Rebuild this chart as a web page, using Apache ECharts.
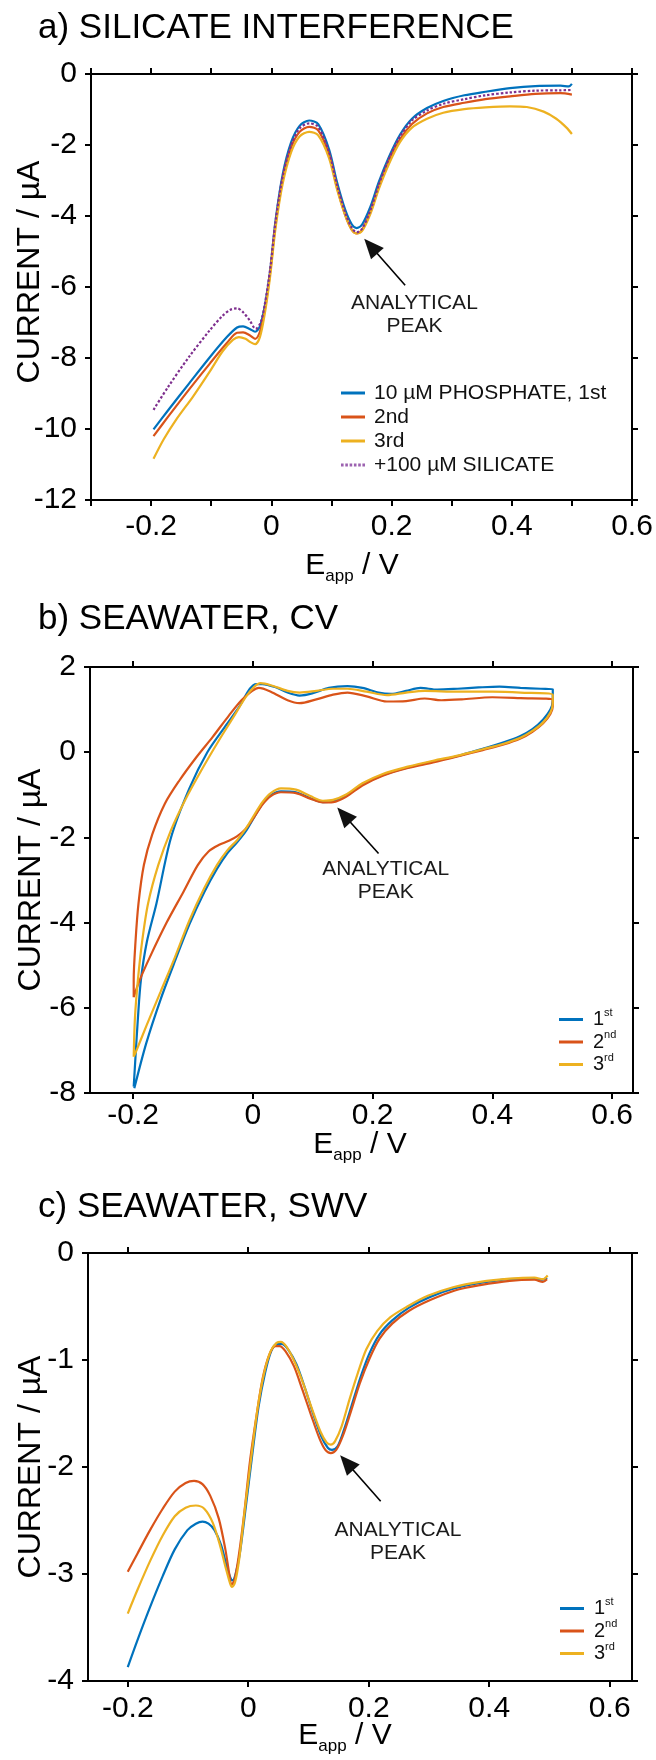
<!DOCTYPE html>
<html><head><meta charset="utf-8">
<script src="https://cdn.jsdelivr.net/npm/echarts@6/dist/echarts.min.js"></script>
<style>html,body{margin:0;padding:0;background:#fff}#c{width:656px;height:1760px}</style>
</head><body><div id="c"></div>
<script>
// ---------- DATA ----------
// Panel a: SWV, silicate interference  [E (V), I (µA)]
const aNames = ['10 µM PHOSPHATE, 1st', '2nd', '3rd', '+100 µM SILICATE'];
const a1st = [[-0.196,-10.01],[-0.172,-9.48],[-0.137,-8.72],[-0.102,-7.97],[-0.074,-7.41],[-0.057,-7.14],[-0.047,-7.11],[-0.036,-7.18],[-0.027,-7.26],[-0.019,-7.11],[-0.011,-6.55],[-0.002,-5.55],[0.007,-4.13],[0.019,-2.82],[0.033,-1.92],[0.047,-1.46],[0.063,-1.31],[0.078,-1.41],[0.096,-2.12],[0.109,-3.03],[0.123,-3.83],[0.134,-4.24],[0.142,-4.34],[0.151,-4.24],[0.165,-3.73],[0.179,-3.03],[0.196,-2.32],[0.214,-1.71],[0.234,-1.26],[0.259,-0.96],[0.286,-0.76],[0.321,-0.60],[0.356,-0.50],[0.397,-0.40],[0.439,-0.34],[0.481,-0.33],[0.495,-0.35],[0.500,-0.28]];
const a2nd = [[-0.196,-10.20],[-0.172,-9.66],[-0.137,-8.89],[-0.102,-8.15],[-0.074,-7.58],[-0.057,-7.29],[-0.047,-7.28],[-0.036,-7.36],[-0.027,-7.46],[-0.019,-7.26],[-0.011,-6.66],[-0.002,-5.60],[0.007,-4.24],[0.019,-2.97],[0.033,-2.07],[0.047,-1.63],[0.063,-1.49],[0.078,-1.59],[0.096,-2.27],[0.109,-3.18],[0.123,-3.98],[0.134,-4.39],[0.142,-4.49],[0.151,-4.39],[0.165,-3.88],[0.179,-3.18],[0.196,-2.44],[0.214,-1.84],[0.234,-1.41],[0.259,-1.11],[0.286,-0.93],[0.321,-0.81],[0.356,-0.71],[0.397,-0.63],[0.439,-0.56],[0.481,-0.54],[0.500,-0.58]];
const a3rd = [[-0.196,-10.84],[-0.179,-10.29],[-0.158,-9.73],[-0.130,-9.08],[-0.102,-8.37],[-0.081,-7.81],[-0.064,-7.49],[-0.054,-7.41],[-0.043,-7.46],[-0.034,-7.56],[-0.027,-7.61],[-0.019,-7.41],[-0.011,-6.76],[-0.002,-5.70],[0.007,-4.34],[0.019,-3.08],[0.033,-2.20],[0.047,-1.76],[0.063,-1.63],[0.078,-1.73],[0.096,-2.37],[0.109,-3.23],[0.123,-3.98],[0.134,-4.39],[0.142,-4.49],[0.151,-4.42],[0.165,-3.93],[0.179,-3.23],[0.196,-2.52],[0.214,-1.92],[0.234,-1.51],[0.259,-1.26],[0.286,-1.09],[0.321,-0.99],[0.356,-0.94],[0.397,-0.91],[0.425,-0.93],[0.453,-1.06],[0.474,-1.26],[0.491,-1.51],[0.500,-1.69]];
const aSilicate = [[-0.196,-9.46],[-0.172,-8.82],[-0.137,-7.97],[-0.102,-7.21],[-0.081,-6.81],[-0.068,-6.64],[-0.057,-6.60],[-0.047,-6.71],[-0.036,-6.94],[-0.026,-7.18],[-0.018,-7.01],[-0.011,-6.50],[-0.002,-5.50],[0.007,-4.15],[0.019,-2.87],[0.033,-2.00],[0.047,-1.53],[0.063,-1.39],[0.078,-1.49],[0.096,-2.20],[0.109,-3.11],[0.123,-3.91],[0.134,-4.34],[0.142,-4.46],[0.151,-4.36],[0.165,-3.83],[0.179,-3.11],[0.196,-2.37],[0.214,-1.76],[0.234,-1.31],[0.259,-1.03],[0.286,-0.84],[0.321,-0.71],[0.356,-0.60],[0.397,-0.52],[0.439,-0.47],[0.481,-0.46],[0.500,-0.45]];

// Panel b: CV in seawater (closed loops, in scan order)
const b1st = [[-0.199,-7.85],[-0.196,-7.15],[-0.192,-6.25],[-0.187,-5.35],[-0.177,-4.45],[-0.161,-3.55],[-0.137,-2.02],[-0.106,-0.85],[-0.076,0.00],[-0.047,0.59],[-0.022,1.08],[-0.005,1.49],[0.006,1.60],[0.016,1.60],[0.037,1.53],[0.058,1.40],[0.078,1.33],[0.099,1.38],[0.127,1.51],[0.158,1.55],[0.183,1.51],[0.210,1.40],[0.231,1.37],[0.256,1.44],[0.280,1.51],[0.308,1.47],[0.342,1.49],[0.377,1.52],[0.412,1.54],[0.447,1.51],[0.481,1.49],[0.501,1.48],[0.501,1.22],[0.497,1.00],[0.485,0.77],[0.467,0.54],[0.447,0.38],[0.419,0.23],[0.384,0.08],[0.342,-0.09],[0.301,-0.22],[0.259,-0.36],[0.217,-0.54],[0.183,-0.76],[0.155,-1.03],[0.134,-1.15],[0.117,-1.17],[0.096,-1.08],[0.072,-0.94],[0.047,-0.92],[0.030,-1.01],[0.016,-1.21],[0.002,-1.53],[-0.012,-1.86],[-0.026,-2.11],[-0.043,-2.38],[-0.060,-2.74],[-0.081,-3.28],[-0.106,-4.04],[-0.130,-4.90],[-0.154,-5.80],[-0.178,-6.83],[-0.198,-7.89]];
const b2nd = [[-0.199,-5.75],[-0.199,-5.35],[-0.196,-4.45],[-0.191,-3.55],[-0.182,-2.65],[-0.168,-1.93],[-0.147,-1.21],[-0.123,-0.67],[-0.095,-0.13],[-0.067,0.36],[-0.040,0.86],[-0.019,1.22],[-0.001,1.44],[0.010,1.51],[0.030,1.42],[0.058,1.22],[0.078,1.15],[0.106,1.24],[0.134,1.35],[0.158,1.40],[0.190,1.31],[0.224,1.19],[0.256,1.20],[0.287,1.26],[0.315,1.22],[0.349,1.24],[0.400,1.29],[0.447,1.27],[0.501,1.24],[0.501,1.08],[0.497,0.90],[0.485,0.68],[0.467,0.48],[0.447,0.32],[0.419,0.18],[0.384,0.05],[0.342,-0.10],[0.301,-0.24],[0.259,-0.37],[0.217,-0.55],[0.183,-0.78],[0.155,-1.05],[0.134,-1.17],[0.117,-1.18],[0.096,-1.09],[0.072,-0.96],[0.047,-0.94],[0.030,-1.03],[0.016,-1.23],[0.002,-1.53],[-0.012,-1.80],[-0.026,-1.97],[-0.040,-2.08],[-0.057,-2.18],[-0.074,-2.33],[-0.092,-2.65],[-0.116,-3.28],[-0.144,-4.00],[-0.172,-4.81],[-0.189,-5.35],[-0.199,-5.75]];
const b3rd = [[-0.199,-7.15],[-0.197,-6.25],[-0.192,-5.35],[-0.185,-4.45],[-0.175,-3.55],[-0.158,-2.65],[-0.137,-1.84],[-0.113,-1.12],[-0.085,-0.40],[-0.057,0.27],[-0.033,0.81],[-0.012,1.29],[0.002,1.53],[0.013,1.62],[0.033,1.56],[0.058,1.44],[0.078,1.40],[0.106,1.44],[0.134,1.49],[0.158,1.49],[0.190,1.42],[0.224,1.34],[0.256,1.40],[0.287,1.44],[0.342,1.42],[0.400,1.42],[0.447,1.40],[0.501,1.35],[0.501,1.13],[0.497,0.93],[0.485,0.70],[0.467,0.50],[0.447,0.34],[0.419,0.20],[0.384,0.07],[0.342,-0.08],[0.301,-0.20],[0.259,-0.34],[0.217,-0.51],[0.183,-0.73],[0.155,-1.00],[0.134,-1.12],[0.117,-1.14],[0.096,-1.03],[0.072,-0.88],[0.047,-0.85],[0.030,-0.96],[0.016,-1.17],[0.002,-1.48],[-0.012,-1.80],[-0.026,-2.06],[-0.043,-2.31],[-0.060,-2.65],[-0.081,-3.19],[-0.106,-3.95],[-0.130,-4.81],[-0.154,-5.62],[-0.178,-6.43],[-0.196,-7.06],[-0.199,-7.15]];

// Panel c: SWV in seawater
const c1st = [[-0.200,-3.87],[-0.184,-3.62],[-0.163,-3.31],[-0.142,-3.02],[-0.122,-2.77],[-0.101,-2.59],[-0.087,-2.53],[-0.076,-2.51],[-0.066,-2.53],[-0.056,-2.59],[-0.045,-2.73],[-0.037,-2.90],[-0.030,-3.03],[-0.026,-3.06],[-0.021,-3.00],[-0.014,-2.81],[-0.004,-2.37],[0.007,-1.87],[0.017,-1.44],[0.028,-1.12],[0.038,-0.92],[0.048,-0.85],[0.055,-0.85],[0.066,-0.90],[0.080,-1.04],[0.094,-1.26],[0.107,-1.49],[0.121,-1.71],[0.132,-1.82],[0.139,-1.84],[0.148,-1.81],[0.159,-1.65],[0.173,-1.40],[0.187,-1.15],[0.201,-0.94],[0.218,-0.76],[0.239,-0.63],[0.267,-0.51],[0.302,-0.41],[0.343,-0.33],[0.385,-0.28],[0.434,-0.245],[0.475,-0.24],[0.489,-0.25],[0.496,-0.23]];
const c2nd = [[-0.200,-2.98],[-0.184,-2.81],[-0.163,-2.59],[-0.142,-2.39],[-0.122,-2.23],[-0.104,-2.15],[-0.090,-2.13],[-0.076,-2.16],[-0.063,-2.27],[-0.049,-2.48],[-0.038,-2.77],[-0.031,-3.02],[-0.028,-3.10],[-0.023,-3.06],[-0.016,-2.84],[-0.007,-2.45],[0.003,-1.94],[0.014,-1.51],[0.024,-1.17],[0.035,-0.95],[0.045,-0.87],[0.052,-0.87],[0.062,-0.92],[0.076,-1.06],[0.090,-1.28],[0.104,-1.51],[0.118,-1.73],[0.128,-1.84],[0.137,-1.87],[0.146,-1.84],[0.157,-1.71],[0.171,-1.47],[0.185,-1.22],[0.201,-0.99],[0.218,-0.80],[0.239,-0.66],[0.267,-0.54],[0.302,-0.44],[0.343,-0.35],[0.385,-0.30],[0.434,-0.26],[0.475,-0.25],[0.489,-0.27],[0.496,-0.245]];
const c3rd = [[-0.200,-3.37],[-0.184,-3.15],[-0.163,-2.88],[-0.142,-2.64],[-0.122,-2.46],[-0.104,-2.38],[-0.087,-2.36],[-0.073,-2.39],[-0.059,-2.52],[-0.047,-2.73],[-0.037,-2.95],[-0.030,-3.09],[-0.027,-3.12],[-0.022,-3.08],[-0.015,-2.86],[-0.006,-2.41],[0.005,-1.91],[0.015,-1.47],[0.026,-1.13],[0.037,-0.92],[0.047,-0.84],[0.054,-0.83],[0.064,-0.88],[0.078,-1.03],[0.092,-1.23],[0.106,-1.46],[0.120,-1.67],[0.130,-1.77],[0.137,-1.79],[0.144,-1.76],[0.155,-1.62],[0.168,-1.37],[0.182,-1.12],[0.196,-0.90],[0.214,-0.73],[0.236,-0.60],[0.264,-0.50],[0.298,-0.40],[0.340,-0.32],[0.385,-0.27],[0.434,-0.24],[0.475,-0.23],[0.489,-0.245],[0.497,-0.21]];

// Axis ranges and ticks
const aXRange = [-0.3, 0.6], aYRange = [-12, 0], aYStep = 2;
const bXRange = [-0.272, 0.635], bYRange = [-8, 2], bYStep = 2;
const cXRange = [-0.266, 0.637], cYRange = [-4, 0], cYStep = 1;
const aXTicks = [-0.3,-0.2,-0.1,0,0.1,0.2,0.3,0.4,0.5,0.6];
const xLabels = [-0.2,0,0.2,0.4,0.6];
const bcXTicks = [-0.2,0,0.2,0.4,0.6];

// Annotations: arrow tail, arrow tip, label centre (data coords)
const aArrow = {tail:[0.2226,-5.95], tip:[0.1545,-4.64], text:[0.238,-6.78]};
const bArrow = {tail:[0.210,-2.38], tip:[0.141,-1.30], text:[0.222,-3.01]};
const cArrow = {tail:[0.2198,-2.32], tip:[0.1525,-1.89], text:[0.2485,-2.70]};

const titles = ['a) SILICATE INTERFERENCE', 'b) SEAWATER, CV', 'c) SEAWATER, SWV'];
const yName = 'CURRENT / µA';

// ---------- STYLE ----------
const FONT = '"Liberation Sans", Arial, Helvetica, sans-serif';
const COL = ['#0072BD', '#D95319', '#EDB120', '#7E2F8E'];
const AX = {color:'#000', width:2};
const TICKFONT = 30;

function xPair(gi, range, ticks, labels, margin){
  const base = {type:'value', gridIndex:gi, min:range[0], max:range[1],
    splitLine:{show:false}, axisLine:{onZero:false, lineStyle:AX}};
  return [
    Object.assign({}, base, {position:'bottom',
      axisTick:{show:true, length:6, lineStyle:AX, customValues:ticks},
      axisLabel:{show:true, customValues:labels, margin:margin, fontSize:TICKFONT, color:'#000', fontFamily:FONT,
        formatter:v=>String(+(+v).toFixed(1))}}),
    Object.assign({}, base, {position:'top',
      axisTick:{show:true, length:6, lineStyle:AX, customValues:ticks},
      axisLabel:{show:false}})
  ];
}
function yPair(gi, range, step){
  const base = {type:'value', gridIndex:gi, min:range[0], max:range[1], interval:step,
    splitLine:{show:false}, axisLine:{onZero:false, lineStyle:AX},
    axisTick:{show:true, length:6, lineStyle:AX}};
  return [
    Object.assign({}, base, {position:'left',
      axisLabel:{show:true, margin:14, fontSize:TICKFONT, color:'#000', fontFamily:FONT, showMinLabel:true, showMaxLabel:true}}),
    Object.assign({}, base, {position:'right', axisLabel:{show:false}})
  ];
}
function annot(ar){
  return {
    markPoint:{silent:true, symbol:'circle', symbolSize:0, animation:false,
      label:{show:true, position:'inside', formatter:'ANALYTICAL\nPEAK', fontSize:21, lineHeight:23,
        color:'#1a1a1a', fontFamily:FONT},
      data:[{coord:ar.text}]}
  };
}
function line(name, data, color, xi, yi, extra){
  return Object.assign({type:'line', name:name, data:data, xAxisIndex:xi, yAxisIndex:yi,
    symbol:'none', smooth:0.3, animation:false, silent:true,
    lineStyle:{color:color, width:2.2}, itemStyle:{color:color}}, extra||{});
}

const series = [
  line(aNames[0], a1st, COL[0], 0, 0, annot(aArrow)),
  line(aNames[1], a2nd, COL[1], 0, 0),
  line(aNames[2], a3rd, COL[2], 0, 0),
  line(aNames[3], aSilicate, COL[3], 0, 0, {lineStyle:{color:COL[3], width:2.2, type:[2.5,2]}}),
  line('b1', b1st, COL[0], 2, 2, annot(bArrow)),
  line('b2', b2nd, COL[1], 2, 2),
  line('b3', b3rd, COL[2], 2, 2),
  line('c1', c1st, COL[0], 4, 4, annot(cArrow)),
  line('c2', c2nd, COL[1], 4, 4),
  line('c3', c3rd, COL[2], 4, 4)
];

const supMap = {b1:'{n|1}{s|st}', b2:'{n|2}{s|nd}', b3:'{n|3}{s|rd}', c1:'{n|1}{s|st}', c2:'{n|2}{s|nd}', c3:'{n|3}{s|rd}'};
const supRich = {n:{fontSize:20, lineHeight:25, fontFamily:FONT, color:'#111', verticalAlign:'middle'},
                 s:{fontSize:11, fontFamily:FONT, color:'#111', verticalAlign:'top'}};
const dashIcon = 'path://M0,0h2.6v3h-2.6zM4.3,0h2.6v3h-2.6zM8.6,0h2.6v3h-2.6zM12.9,0h2.6v3h-2.6zM17.2,0h2.6v3h-2.6zM21.4,0h2.6v3h-2.6z';

const legend = [
  {data:[{name:aNames[0]},{name:aNames[1]},{name:aNames[2]},{name:aNames[3], icon:dashIcon, itemStyle:{color:'#9c62b0'}}],
   icon:'rect', orient:'vertical', left:341, top:381, padding:0, itemGap:0, itemWidth:24, itemHeight:3,
   selectedMode:false, textStyle:{fontSize:21, lineHeight:24, color:'#111', fontFamily:FONT, padding:[0,0,0,4]}},
  {data:['b1','b2','b3'], icon:'rect', orient:'vertical', left:559, top:1007, padding:0, itemGap:0, itemWidth:24, itemHeight:3,
   selectedMode:false, formatter:n=>supMap[n], textStyle:{padding:[0,0,0,5], rich:supRich}},
  {data:['c1','c2','c3'], icon:'rect', orient:'vertical', left:560, top:1596, padding:0, itemGap:0, itemWidth:24, itemHeight:3,
   selectedMode:false, formatter:n=>supMap[n], textStyle:{padding:[0,0,0,5], rich:supRich}}
];

const grid = [
  {left:91, top:74, width:541, height:426},
  {left:90, top:667, width:543, height:426},
  {left:88, top:1253, width:544, height:428}
];

function titleText(t, y){
  return {type:'text', x:38, y:y, silent:true,
    style:{text:t, font:'35px '+FONT, fill:'#000', align:'left', verticalAlign:'middle'}};
}
function yNameText(x, y){
  return {type:'text', x:x, y:y, rotation:Math.PI/2, silent:true,
    style:{text:yName, font:'32px '+FONT, fill:'#000', align:'center', verticalAlign:'middle'}};
}
const xRich = {e:{fontSize:30, fontFamily:FONT, color:'#000', verticalAlign:'top'},
               s:{fontSize:17, fontFamily:FONT, color:'#000', verticalAlign:'top', padding:[17,0,0,0]}};
function xNameText(x, y){
  return {type:'text', x:x, y:y, silent:true,
    style:{text:'{e|E}{s|app}{e| / V}', rich:xRich, align:'center', verticalAlign:'top', fill:'#000'}};
}

const option = {
  backgroundColor:'#fff',
  animation:false,
  grid:grid,
  xAxis:[].concat(xPair(0,aXRange,aXTicks,xLabels,12), xPair(1,bXRange,bcXTicks,xLabels,8), xPair(2,cXRange,bcXTicks,xLabels,13)),
  yAxis:[].concat(yPair(0,aYRange,aYStep), yPair(1,bYRange,bYStep), yPair(2,cYRange,cYStep)),
  legend:legend,
  series:series,
  graphic:[
    titleText(titles[0], 28), titleText(titles[1], 619), titleText(titles[2], 1207),
    yNameText(30, 272), yNameText(31, 880), yNameText(31, 1467),
    xNameText(352, 551), xNameText(360, 1130), xNameText(345, 1721)
  ]
};
const chart = echarts.init(document.getElementById('c'), null, {renderer:'canvas'});
chart.setOption(option);

// Arrows (annotation) placed through the series' coordinate systems
function arrowEls(seriesIndex, ar){
  const t = chart.convertToPixel({seriesIndex:seriesIndex}, ar.tail);
  const h = chart.convertToPixel({seriesIndex:seriesIndex}, ar.tip);
  const dx = t[0]-h[0], dy = t[1]-h[1], L = Math.sqrt(dx*dx+dy*dy);
  const ux = dx/L, uy = dy/L, px = -uy, py = ux;
  const HL = 20, HW = 8.5;
  const bx = h[0]+ux*HL, by = h[1]+uy*HL;
  return [
    {type:'line', silent:true, shape:{x1:t[0], y1:t[1], x2:bx-ux*2, y2:by-uy*2}, style:{stroke:'#000', lineWidth:1.6}},
    {type:'polygon', silent:true, shape:{points:[[h[0],h[1]],[bx+px*HW,by+py*HW],[bx-px*HW,by-py*HW]]}, style:{fill:'#111'}}
  ];
}
const extra = [].concat(arrowEls(0, aArrow), arrowEls(4, bArrow), arrowEls(7, cArrow));
chart.setOption({graphic: option.graphic.concat(extra)});
</script></body></html>
